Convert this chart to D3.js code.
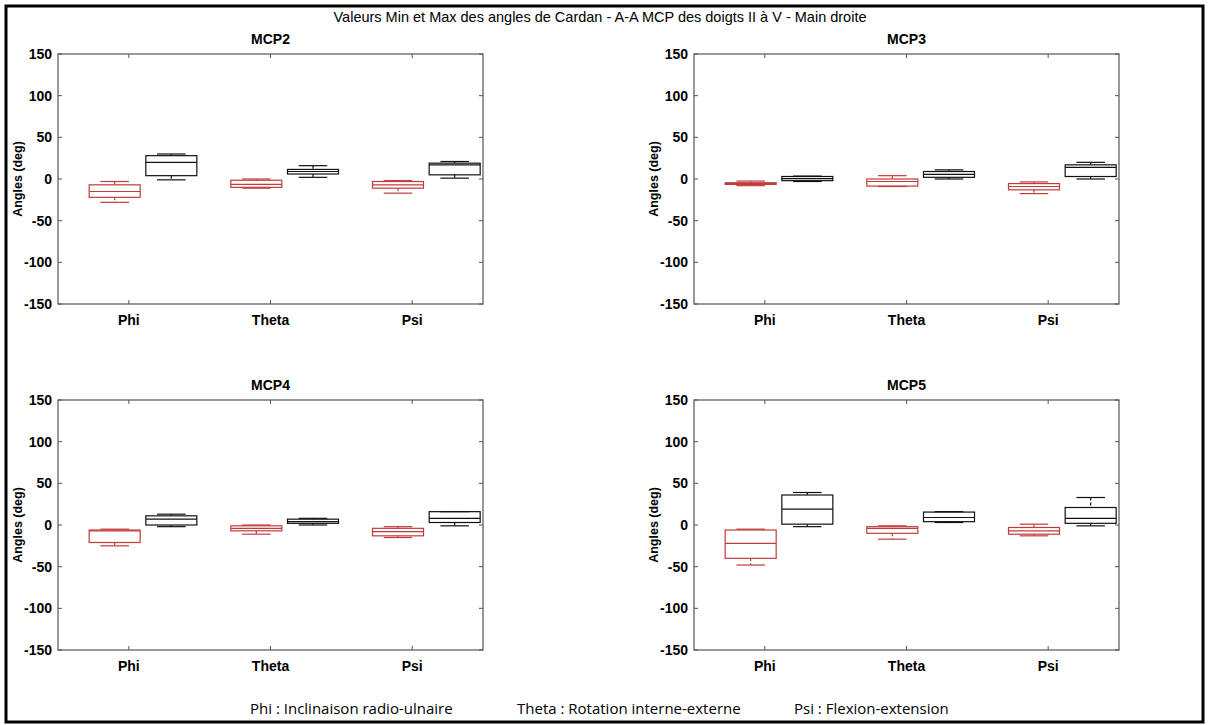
<!DOCTYPE html>
<html><head><meta charset="utf-8">
<script src="https://cdn.jsdelivr.net/npm/d3@7"></script>
<style>html,body{margin:0;padding:0;background:#fff}svg{display:block}</style>
</head><body><svg id="c" width="1209" height="725"></svg>
<script>
// ---- data ----
const chartTitle = "Valeurs Min et Max des angles de Cardan - A-A MCP des doigts II à V - Main droite";
const panelNames = ["MCP2", "MCP3", "MCP4", "MCP5"];
const categories = ["Phi", "Theta", "Psi"];
const yTicks = [-150, -100, -50, 0, 50, 100, 150];
const yLabel = "Angles (deg)";
const footer = ["Phi : Inclinaison radio-ulnaire", "Theta : Rotation interne-externe", "Psi : Flexion-extension"];
// each box: [whisker low, q1, median, q3, whisker high]
const mcp2Min = [[-28, -22, -15, -7, -3], [-11, -10, -6.5, -1.5, 0], [-17, -11, -7, -3, -2]];
const mcp2Max = [[-1, 4, 20, 28, 30], [2, 6, 9, 11.5, 16], [1, 5, 17, 19, 21]];
const mcp3Min = [[-8, -6.5, -5.5, -4.5, -2.5], [-9, -8.5, -3, 0, 4], [-17.5, -13, -9, -5.5, -3.5]];
const mcp3Max = [[-3, -2, 0.5, 3, 3.5], [0, 2, 5.5, 9, 11], [0, 3, 14, 17, 20]];
const mcp4Min = [[-25, -21, -7, -6, -5], [-11, -7, -4, -1, 0], [-15, -13, -8, -4, -2]];
const mcp4Max = [[-2, 0, 7, 11, 13], [0, 2, 4, 7, 8], [-1, 3, 8, 16, 16]];
const mcp5Min = [[-48, -40, -22, -6, -5], [-17, -10, -4, -2, -1], [-13, -11, -7, -3, 1]];
const mcp5Max = [[-2, 1, 19, 36, 39], [3, 4, 9, 15.5, 16], [-1, 2, 8, 21, 33]];
const minSeries = [mcp2Min, mcp3Min, mcp4Min, mcp5Min];
const maxSeries = [mcp2Max, mcp3Max, mcp4Max, mcp5Max];

// ---- layout ----
const svg = d3.select("#c");
const colX = [58, 694], rowY = [54, 400], pw = 425, ph = 250;
const axisColor = "#555";
const redColor = "#c23b3b";
const font = "Liberation Sans, Arial, sans-serif";

svg.append("rect").attr("x", 6).attr("y", 6).attr("width", 1197).attr("height", 716)
  .attr("fill", "none").attr("stroke", "#000").attr("stroke-width", 3);

svg.append("text").attr("x", 600).attr("y", 22).attr("text-anchor", "middle")
  .attr("font-family", font).attr("font-size", 14.5)
  .text(chartTitle);

panelNames.forEach((name, p) => {
  const x0 = colX[p % 2], y0 = rowY[Math.floor(p / 2)];
  const g = svg.append("g").attr("transform", `translate(${x0},${y0})`);
  const x = d3.scaleLinear().domain([0.5, 3.5]).range([0, pw]);
  const y = d3.scaleLinear().domain([-150, 150]).range([ph, 0]);

  // boxes
  const boxW = x(0.36) - x(0);
  const drawBox = (stats, pos, color) => {
    const [lo, q1, med, q3, hi] = stats;
    const cx = x(pos);
    const bg = g.append("g").attr("stroke", color).attr("fill", "none").attr("stroke-width", 1.2);
    bg.append("line").attr("x1", cx).attr("x2", cx).attr("y1", y(hi)).attr("y2", y(q3)).attr("stroke-dasharray", "3,2");
    bg.append("line").attr("x1", cx).attr("x2", cx).attr("y1", y(q1)).attr("y2", y(lo)).attr("stroke-dasharray", "3,2");
    bg.append("line").attr("x1", cx - boxW * 0.28).attr("x2", cx + boxW * 0.28).attr("y1", y(hi)).attr("y2", y(hi));
    bg.append("line").attr("x1", cx - boxW * 0.28).attr("x2", cx + boxW * 0.28).attr("y1", y(lo)).attr("y2", y(lo));
    bg.append("rect").attr("x", cx - boxW / 2).attr("width", boxW)
      .attr("y", y(q3)).attr("height", Math.max(0.5, y(q1) - y(q3)));
    bg.append("line").attr("x1", cx - boxW / 2).attr("x2", cx + boxW / 2).attr("y1", y(med)).attr("y2", y(med));
  };
  categories.forEach((c, i) => {
    drawBox(minSeries[p][i], i + 1 - 0.1, redColor);
    drawBox(maxSeries[p][i], i + 1 + 0.3, "#111");
  });

  // axes frame
  g.append("rect").attr("width", pw).attr("height", ph).attr("fill", "none").attr("stroke", axisColor).attr("stroke-width", 1.2);
  const tl = 4;
  yTicks.forEach(t => {
    g.append("line").attr("x1", 0).attr("x2", tl).attr("y1", y(t)).attr("y2", y(t)).attr("stroke", axisColor);
    g.append("line").attr("x1", pw).attr("x2", pw - tl).attr("y1", y(t)).attr("y2", y(t)).attr("stroke", axisColor);
    g.append("text").attr("x", -6).attr("y", y(t)).attr("dy", "0.35em").attr("text-anchor", "end")
      .attr("font-family", font).attr("font-weight", "bold").attr("font-size", 14)
      .text(t);
  });
  categories.forEach((c, i) => {
    const cx = x(i + 1);
    g.append("line").attr("x1", cx).attr("x2", cx).attr("y1", ph).attr("y2", ph - tl).attr("stroke", axisColor);
    g.append("line").attr("x1", cx).attr("x2", cx).attr("y1", 0).attr("y2", tl).attr("stroke", axisColor);
    g.append("text").attr("x", cx).attr("y", ph + 21).attr("text-anchor", "middle")
      .attr("font-family", font).attr("font-weight", "bold").attr("font-size", 14)
      .text(c);
  });
  g.append("text").attr("x", pw / 2).attr("y", -10).attr("text-anchor", "middle")
    .attr("font-family", font).attr("font-weight", "bold").attr("font-size", 14)
    .text(name);
  g.append("text").attr("transform", `translate(-36,${ph / 2}) rotate(-90)`).attr("text-anchor", "middle")
    .attr("font-family", font).attr("font-weight", "bold").attr("font-size", 12.5)
    .text(yLabel);
});

// footer
const footX = [250, 517, 794];
footer.forEach((t, i) => {
  svg.append("text").attr("x", footX[i]).attr("y", 714)
    .attr("font-family", "Open Sans, sans-serif").attr("font-size", 15).text(t);
});
</script></body></html>
